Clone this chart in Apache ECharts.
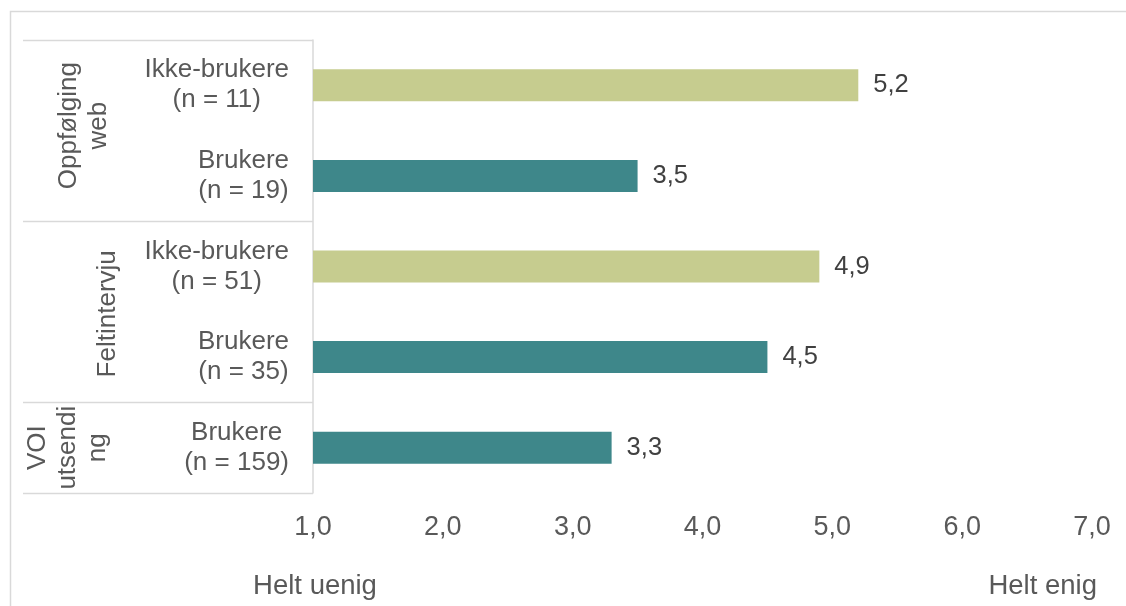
<!DOCTYPE html>
<html>
<head>
<meta charset="utf-8">
<script src="https://cdn.jsdelivr.net/npm/echarts@6/dist/echarts.min.js"></script>
<style>
  html, body { margin: 0; padding: 0; background: #ffffff; }
  #chart { width: 1126px; height: 606px; }
</style>
</head>
<body>
<div id="chart"></div>
<script>
// Respondent groups, top to bottom
const categories = [
  'Ikke-brukere\n(n = 11)',
  'Brukere\n(n = 19)',
  'Ikke-brukere\n(n = 51)',
  'Brukere\n(n = 35)',
  'Brukere\n(n = 159)'
];
// Mean agreement score (1 = Helt uenig, 7 = Helt enig)
const values = [5.2, 3.5, 4.9, 4.5, 3.3];
// Whether each row is users or non-users of the tool
const userTypes = ['ikke', 'bruker', 'ikke', 'bruker', 'bruker'];

// Survey groups and how many rows each spans
const groupNames = ['Oppfølging\nweb', 'Feltintervju', 'VOI\nutsendi\nng'];
const groupSizes = [2, 2, 1];

// Scale
const scaleMin = 1;
const scaleMax = 7;
const scaleStep = 1;
const scaleEndLabels = ['Helt uenig', 'Helt enig'];

const typeColors = { ikke: '#c6cc8f', bruker: '#3e878a' };
const FONT = '"Liberation Sans", Arial, sans-serif';
const GRID_LINE = '#d9d9d9';
const TEXT = '#595959';
// horizontal centre and vertical nudge of each group's rotated label
const groupLabelX = [84, 108, 68];
const groupLabelDy = [-5, 2, 0];

const fmt = v => v.toFixed(1).replace('.', ',');

const chart = echarts.init(document.getElementById('chart'), null, { renderer: 'canvas' });

chart.setOption({
  animation: false,
  backgroundColor: '#ffffff',
  grid: { left: 313, right: 34, top: 40, bottom: 113, containLabel: false },
  xAxis: {
    type: 'value',
    min: scaleMin,
    max: scaleMax,
    interval: scaleStep,
    axisLine: { show: false },
    axisTick: { show: false },
    splitLine: { show: false },
    axisLabel: {
      margin: 21,
      color: TEXT,
      fontFamily: FONT,
      fontSize: 27,
      formatter: v => fmt(v)
    }
  },
  yAxis: {
    type: 'category',
    inverse: true,
    data: categories,
    axisLine: { show: true, lineStyle: { color: GRID_LINE, width: 1.5 } },
    axisTick: { show: false },
    axisLabel: {
      align: 'right',
      margin: 24,
      formatter: v => v.split('\n').map(l => '{c|' + l + '}').join('\n'),
      rich: {
        c: {
          align: 'center',
          color: TEXT,
          fontFamily: FONT,
          fontSize: 26,
          lineHeight: 30
        }
      }
    }
  },
  series: [{
    type: 'bar',
    barWidth: 32,
    data: values.map((v, i) => ({
      value: v,
      itemStyle: { color: typeColors[userTypes[i]] }
    })),
    label: {
      show: true,
      position: 'right',
      distance: 15,
      color: '#404040',
      fontFamily: FONT,
      fontSize: 25.5,
      formatter: p => fmt(p.value)
    }
  }]
});

// Table lines, group labels and scale-end labels placed from the axes
const gridTop = chart.convertToPixel({ yAxisIndex: 0 }, 0);
const gridNext = chart.convertToPixel({ yAxisIndex: 0 }, 1);
const band = gridNext - gridTop;
const axisX = chart.convertToPixel({ xAxisIndex: 0 }, scaleMin);
const endX = chart.convertToPixel({ xAxisIndex: 0 }, scaleMax);

const graphics = [];
// outer frame
graphics.push({
  type: 'polyline',
  silent: true,
  shape: { points: [[10.5, 700], [10.5, 11.5], [1200, 11.5]] },
  style: { stroke: GRID_LINE, lineWidth: 1.5, fill: null }
});

let start = 0;
const boundaries = [0];
groupSizes.forEach(s => { start += s; boundaries.push(start); });
boundaries.forEach(b => {
  const y = Math.round(chart.convertToPixel({ yAxisIndex: 0 }, b) - band / 2) + 0.5;
  graphics.push({
    type: 'line',
    silent: true,
    shape: { x1: 23, y1: y, x2: axisX, y2: y },
    style: { stroke: GRID_LINE, lineWidth: 1.5 }
  });
});

start = 0;
groupNames.forEach((name, gi) => {
  const first = start;
  const last = start + groupSizes[gi] - 1;
  start += groupSizes[gi];
  const cy = (chart.convertToPixel({ yAxisIndex: 0 }, first) + chart.convertToPixel({ yAxisIndex: 0 }, last)) / 2;
  graphics.push({
    type: 'text',
    silent: true,
    x: groupLabelX[gi],
    y: cy + groupLabelDy[gi],
    rotation: Math.PI / 2,
    style: {
      text: name,
      fill: TEXT,
      font: '26px ' + FONT,
      lineHeight: 30,
      align: 'center',
      verticalAlign: 'middle'
    }
  });
});

graphics.push({
  type: 'text', silent: true, x: axisX + 2, y: 586,
  style: { text: scaleEndLabels[0], fill: TEXT, font: '27.5px ' + FONT, align: 'center', verticalAlign: 'middle' }
});
graphics.push({
  type: 'text', silent: true, x: endX + 5, y: 586,
  style: { text: scaleEndLabels[1], fill: TEXT, font: '27.5px ' + FONT, align: 'right', verticalAlign: 'middle' }
});

chart.setOption({ graphic: graphics });
</script>
</body>
</html>
